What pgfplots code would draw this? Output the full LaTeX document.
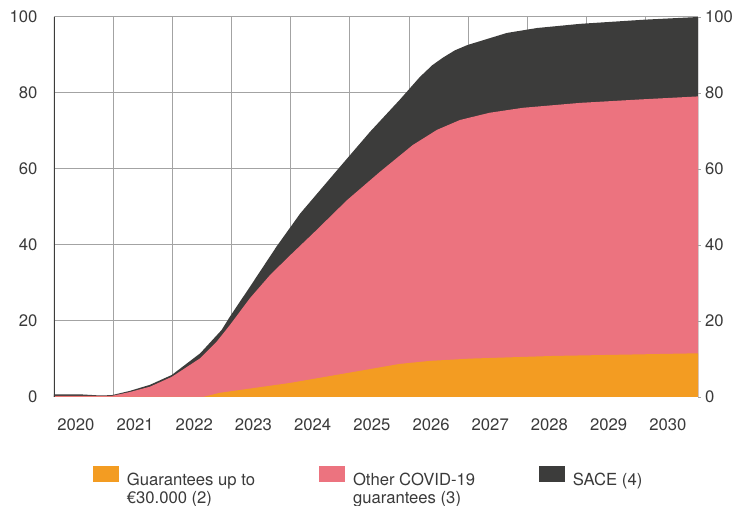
\documentclass[border=0pt]{standalone}
\usepackage{fontspec}
\setmainfont{TeX Gyre Heros}
\usepackage{pgfplots}
\pgfplotsset{compat=1.18}
\definecolor{orangeG}{HTML}{F39C22}
\definecolor{pinkC}{HTML}{EC737F}
\definecolor{darkS}{HTML}{3C3C3B}
\definecolor{gridg}{HTML}{A3A3A3}
\definecolor{txt}{HTML}{3A3A3A}

\begin{document}
\fontsize{12.5}{13.2}\selectfont
\begin{tikzpicture}
\useasboundingbox (-40.5pt,-81.75pt) rectangle (517.5pt,297.75pt);
\begin{axis}[
  at={(0pt,0pt)}, anchor=south west,
  scale only axis, width=483pt, height=285pt,
  xmin=2020, xmax=2030.88, ymin=0, ymax=100,
  xtick={2020.37,2021.37,2022.37,2023.37,2024.37,2025.37,2026.37,2027.37,2028.37,2029.37,2030.37},
  xticklabels={2020,2021,2022,2023,2024,2025,2026,2027,2028,2029,2030},
  minor xtick={2021,2022,2023,2024,2025,2026,2027,2028,2029,2030},
  xminorgrids, major x tick style={draw=none}, minor x tick style={draw=none},
  ytick={0,20,40,60,80,100}, ymajorgrids, y tick style={draw=none},
  grid style={gridg, line width=0.75pt},
  minor grid style={gridg, line width=0.75pt},
  axis line style={draw=none},
  tick label style={font=\fontsize{12.5}{13.2}\selectfont, text=txt},
  /pgf/number format/assume math mode=true,
  xticklabel style={yshift=-12pt},
  yticklabel style={xshift=-8pt},
  legend columns=3,
  legend style={at={(0.0606,-0.182)}, anchor=north west, draw=none, fill=none,
    inner sep=0pt, font=\fontsize{12.5}{13.2}\selectfont, text=txt,
    /tikz/every odd column/.append style={column sep=4pt}},
  legend cell align=left,
  area legend,
]
\addlegendimage{legend image code/.code={\fill[orangeG] (0pt,-0.75pt) rectangle (18.75pt,10.5pt);}}
\addlegendentry{\parbox[t]{142.5pt}{Guarantees up to\\€30.000 (2)}}
\addlegendimage{legend image code/.code={\fill[pinkC] (0pt,-0.75pt) rectangle (18.75pt,10.5pt);}}
\addlegendentry{\parbox[t]{137.75pt}{Other COVID-19\\guarantees (3)}}
\addlegendimage{legend image code/.code={\fill[darkS] (0pt,-0.75pt) rectangle (18.75pt,10.5pt);}}
\addlegendentry{SACE (4)}

% SACE (top of the stack)
\addplot[fill=darkS, draw=none, forget plot] coordinates {
(2020.00,0.7) (2020.44,0.7) (2020.78,0.4) (2020.98,0.5) (2021.28,1.6) (2021.62,3.2)
(2021.99,5.8) (2022.47,11.5) (2022.83,17.6) (2022.97,21.1) (2023.31,29) (2023.76,39.6)
(2024.16,48.3) (2024.80,60) (2025.34,69.8) (2025.84,78.2) (2026.18,84.2) (2026.39,87.3)
(2026.57,89.3) (2026.77,91.2) (2026.98,92.6) (2027.65,95.8) (2028.16,97.1) (2028.89,98.2)
(2029.98,99.3) (2030.88,100)} \closedcycle;
% Other COVID-19 guarantees (stacked on the first series)
\addplot[fill=pinkC, draw=none, forget plot] coordinates {
(2020.00,0.3) (2020.98,0.3) (2021.28,1.3) (2021.62,2.7) (2021.99,5.3) (2022.47,10.2)
(2022.75,14.6) (2022.97,18.9) (2023.31,26) (2023.65,32.1) (2023.99,37.3) (2024.38,43.1)
(2024.95,51.8) (2025.51,59.3) (2026.06,66.3) (2026.47,70.3) (2026.86,72.9) (2027.36,74.8)
(2027.92,76.1) (2028.89,77.4) (2029.90,78.3) (2030.88,79.1)} \closedcycle;
% Guarantees up to 30.000
\addplot[fill=orangeG, draw=none, forget plot] coordinates {
(2020.00,0) (2022.52,0) (2022.80,1.1) (2023.99,3.7) (2025.84,8.7) (2026.35,9.5)
(2027.03,10.1) (2028.43,10.8) (2030.88,11.5)} \closedcycle;

\draw[darkS, line width=1.6pt] (axis description cs:0,0) -- (axis description cs:0,1);
\draw[darkS!80, line width=0.75pt] (axis description cs:1,0) -- (axis description cs:1,1);
\end{axis}
\begin{axis}[
  at={(0pt,0pt)}, anchor=south west,
  scale only axis, width=483pt, height=285pt,
  xmin=2020, xmax=2030.88, ymin=0, ymax=100,
  hide x axis, axis y line*=right, axis line style={draw=none},
  ytick={0,20,40,60,80,100},
  y tick style={gridg, line width=0.6pt}, tick align=outside, major tick length=2pt,
  tick label style={font=\fontsize{12.5}{13.2}\selectfont, text=txt},
  /pgf/number format/assume math mode=true,
  yticklabel style={xshift=-1pt},
]
\addplot[draw=none] coordinates {(2020,0)};
\end{axis}
\end{tikzpicture}
\end{document}
